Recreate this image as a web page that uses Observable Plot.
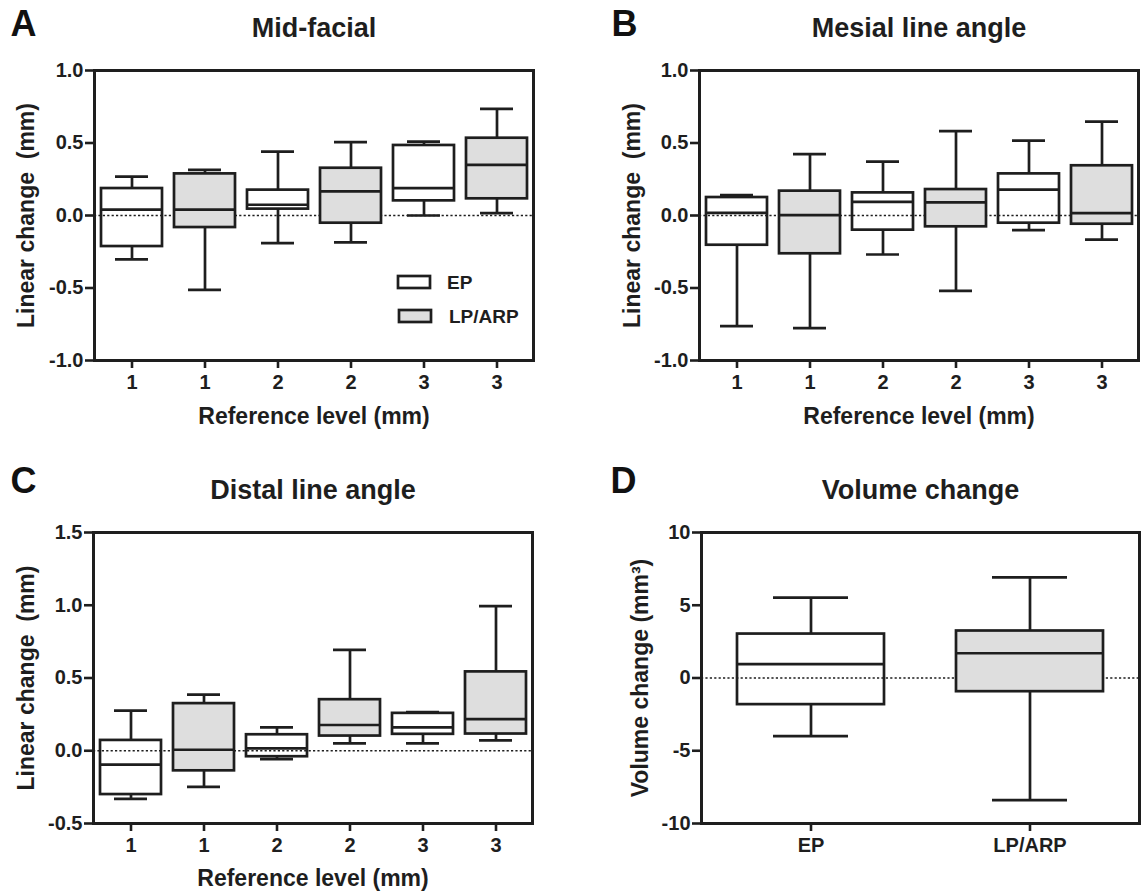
<!DOCTYPE html>
<html><head><meta charset="utf-8">
<script src="https://cdn.jsdelivr.net/npm/d3@7"></script>
<script src="https://cdn.jsdelivr.net/npm/@observablehq/plot@0.6"></script>
<style>
body{margin:0;background:#fff;}
#wrap{position:relative;width:1146px;height:891px;overflow:hidden;}
.panel{position:absolute;}
.panel svg{overflow:visible;}
</style></head><body><div id="wrap">
<div class="panel" id="pA" style="left:0;top:0"></div>
<div class="panel" id="pB" style="left:573px;top:0"></div>
<div class="panel" id="pC" style="left:0;top:445px"></div>
<div class="panel" id="pD" style="left:573px;top:445px"></div>
</div>
<script>
// categories
const levels = ["1","1","2","2","3","3"];
const groups = ["EP","LP/ARP","EP","LP/ARP","EP","LP/ARP"];
const dGroups = ["EP","LP/ARP"];

// Panel A: Mid-facial
const aMin = [-0.303,-0.513,-0.191,-0.186,0.000,0.016];
const aQ1  = [-0.214,-0.083,0.044,-0.053,0.101,0.115];
const aMed = [0.040,0.040,0.074,0.166,0.189,0.349];
const aQ3  = [0.186,0.287,0.175,0.326,0.483,0.533];
const aMax = [0.268,0.314,0.441,0.506,0.510,0.736];

// Panel B: Mesial line angle
const bMin = [-0.763,-0.777,-0.269,-0.520,-0.101,-0.166];
const bQ1  = [-0.205,-0.264,-0.101,-0.078,-0.053,-0.060];
const bMed = [0.018,0.002,0.094,0.090,0.179,0.016];
const bQ3  = [0.124,0.168,0.156,0.179,0.287,0.343];
const bMax = [0.140,0.423,0.372,0.582,0.517,0.648];

// Panel C: Distal line angle
const cMin = [-0.331,-0.248,-0.057,0.051,0.051,0.071];
const cQ1  = [-0.301,-0.138,-0.041,0.101,0.113,0.115];
const cMed = [-0.096,0.007,0.016,0.177,0.161,0.218];
const cQ3  = [0.071,0.324,0.110,0.351,0.257,0.542];
const cMax = [0.276,0.386,0.161,0.693,0.266,0.994];

// Panel D: Volume change
const dMin = [-3.99,-8.40];
const dQ1  = [-1.83,-0.94];
const dMed = [0.96,1.70];
const dQ3  = [3.02,3.23];
const dMax = [5.53,6.91];

const yTicksLin = [-1,-0.5,0,0.5,1];
const yTicksC = [-0.5,0,0.5,1,1.5];
const yTicksD = [-10,-5,0,5,10];

const ink = "#1e1e1e";
const grey = "#dedede";
const font = "'Liberation Sans', Arial, Helvetica, sans-serif";

function rowsOf(gs, mn, q1, md, q3, mx) {
  return gs.map((g, i) => ({key: i, group: g, min: mn[i], q1: q1[i], med: md[i], q3: q3[i], max: mx[i]}));
}

function panel(o) {
  const rows = o.rows;
  const ep = rows.filter(d => d.group === "EP");
  const lp = rows.filter(d => d.group !== "EP");
  const sw = 2.7;
  const marks = [
    Plot.ruleY([0], {stroke: ink, strokeWidth: 1.3, strokeDasharray: "2.2,2.2"}),
    Plot.ruleX(rows, {x: "key", y1: "min", y2: "q1", stroke: ink, strokeWidth: sw}),
    Plot.ruleX(rows, {x: "key", y1: "q3", y2: "max", stroke: ink, strokeWidth: sw}),
    Plot.tickY(rows, {x: "key", y: "min", insetLeft: o.capInset, insetRight: o.capInset, stroke: ink, strokeWidth: sw}),
    Plot.tickY(rows, {x: "key", y: "max", insetLeft: o.capInset, insetRight: o.capInset, stroke: ink, strokeWidth: sw}),
    Plot.barY(lp, {x: "key", y1: "q1", y2: "q3", fill: grey, stroke: ink, strokeWidth: sw, insetLeft: o.boxInset, insetRight: o.boxInset}),
    Plot.barY(ep, {x: "key", y1: "q1", y2: "q3", fill: "none", stroke: ink, strokeWidth: sw, insetLeft: o.boxInset, insetRight: o.boxInset}),
    Plot.tickY(rows, {x: "key", y: "med", insetLeft: o.boxInset, insetRight: o.boxInset, stroke: ink, strokeWidth: sw}),
    Plot.frame({stroke: ink, strokeWidth: 3}),
    Plot.axisY({ticks: o.yTicks, tickFormat: o.yFmt, tickSize: 9, tickPadding: 2, strokeWidth: 2.6, fontSize: 20, label: null}),
    Plot.axisX({tickFormat: o.xFmt, tickSize: 8, tickPadding: 6, strokeWidth: 2.6, fontSize: 20, label: null}),
    Plot.text([o.letter], {text: d => d, frameAnchor: "top-left", textAnchor: "start", dx: o.letterDx, dy: o.letterDy, lineAnchor: "bottom", fontSize: 36, fontWeight: "bold", fill: "#111"}),
    Plot.text([o.title], {text: d => d, frameAnchor: "top", textAnchor: "middle", dy: o.titleDy, lineAnchor: "bottom", fontSize: 27, fontWeight: "bold", fill: ink}),
    Plot.text([o.yLabel], {text: d => d, frameAnchor: "left", textAnchor: "middle", rotate: -90, dx: o.yLabelDx, lineAnchor: "middle", fontSize: 23, fontWeight: "bold", fill: ink})
  ];
  if (o.xLabel) marks.push(Plot.text([o.xLabel], {text: d => d, frameAnchor: "bottom", textAnchor: "middle", dy: o.xLabelDy, lineAnchor: "bottom", fontSize: 23, fontWeight: "bold", fill: ink}));
  return Plot.plot({
    width: 573,
    height: o.height,
    marginLeft: o.ml, marginRight: o.mr, marginTop: o.mt, marginBottom: o.mb,
    style: {fontFamily: font, fontWeight: "bold", fontSize: "20px", color: ink, background: "transparent"},
    x: {type: "band", domain: rows.map(d => d.key), padding: 0},
    y: {domain: o.yDomain},
    marks
  });
}

const fmt1 = d => d.toFixed(1);

const svgA = panel({
  rows: rowsOf(groups, aMin, aQ1, aMed, aQ3, aMax),
  xFmt: i => levels[i], yTicks: yTicksLin, yFmt: fmt1, yDomain: [-1, 1],
  height: 445, ml: 94, mr: 40, mt: 70, mb: 85,
  boxInset: 6, capInset: 20,
  letter: "A", letterDx: -84, letterDy: -35,
  title: "Mid-facial", titleDy: -34,
  yLabel: "Linear change\u00a0 (mm)", yLabelDx: -68,
  xLabel: "Reference level (mm)", xLabelDy: 63
});
document.getElementById("pA").appendChild(svgA);

// legend for panel A
const lg = d3.select(svgA).append("g").attr("font-family", font).attr("font-weight", "bold").attr("font-size", 19).attr("fill", ink).attr("text-anchor", "start");
lg.append("rect").attr("x", 398).attr("y", 276).attr("width", 32).attr("height", 12).attr("fill", "none").attr("stroke", ink).attr("stroke-width", 2.7);
lg.append("rect").attr("x", 399).attr("y", 310).attr("width", 32).attr("height", 12).attr("fill", grey).attr("stroke", ink).attr("stroke-width", 2.7);
lg.append("text").attr("x", 447).attr("y", 289).attr("text-anchor", "start").text(groups[0]);
lg.append("text").attr("x", 449).attr("y", 323).attr("text-anchor", "start").text(groups[1]);

document.getElementById("pB").appendChild(panel({
  rows: rowsOf(groups, bMin, bQ1, bMed, bQ3, bMax),
  xFmt: i => levels[i], yTicks: yTicksLin, yFmt: fmt1, yDomain: [-1, 1],
  height: 445, ml: 126, mr: 8, mt: 70, mb: 85,
  boxInset: 6, capInset: 20,
  letter: "B", letterDx: -88, letterDy: -35,
  title: "Mesial line angle", titleDy: -34,
  yLabel: "Linear change\u00a0 (mm)", yLabelDx: -67,
  xLabel: "Reference level (mm)", xLabelDy: 63
}));

document.getElementById("pC").appendChild(panel({
  rows: rowsOf(groups, cMin, cQ1, cMed, cQ3, cMax),
  xFmt: i => levels[i], yTicks: yTicksC, yFmt: fmt1, yDomain: [-0.5, 1.5],
  height: 446, ml: 93, mr: 41, mt: 87, mb: 68,
  boxInset: 6, capInset: 20,
  letter: "C", letterDx: -83, letterDy: -40,
  title: "Distal line angle", titleDy: -34,
  yLabel: "Linear change\u00a0 (mm)", yLabelDx: -67,
  xLabel: "Reference level (mm)", xLabelDy: 62
}));

document.getElementById("pD").appendChild(panel({
  rows: rowsOf(dGroups, dMin, dQ1, dMed, dQ3, dMax),
  xFmt: i => dGroups[i], yTicks: yTicksD, yFmt: d => String(d), yDomain: [-10, 10],
  height: 446, ml: 128, mr: 7, mt: 87, mb: 68,
  boxInset: 36, capInset: 72,
  letter: "D", letterDx: -91, letterDy: -40,
  title: "Volume change", titleDy: -34,
  yLabel: "Volume change (mm³)", yLabelDx: -61,
  xLabel: null
}));
</script>
</body></html>
